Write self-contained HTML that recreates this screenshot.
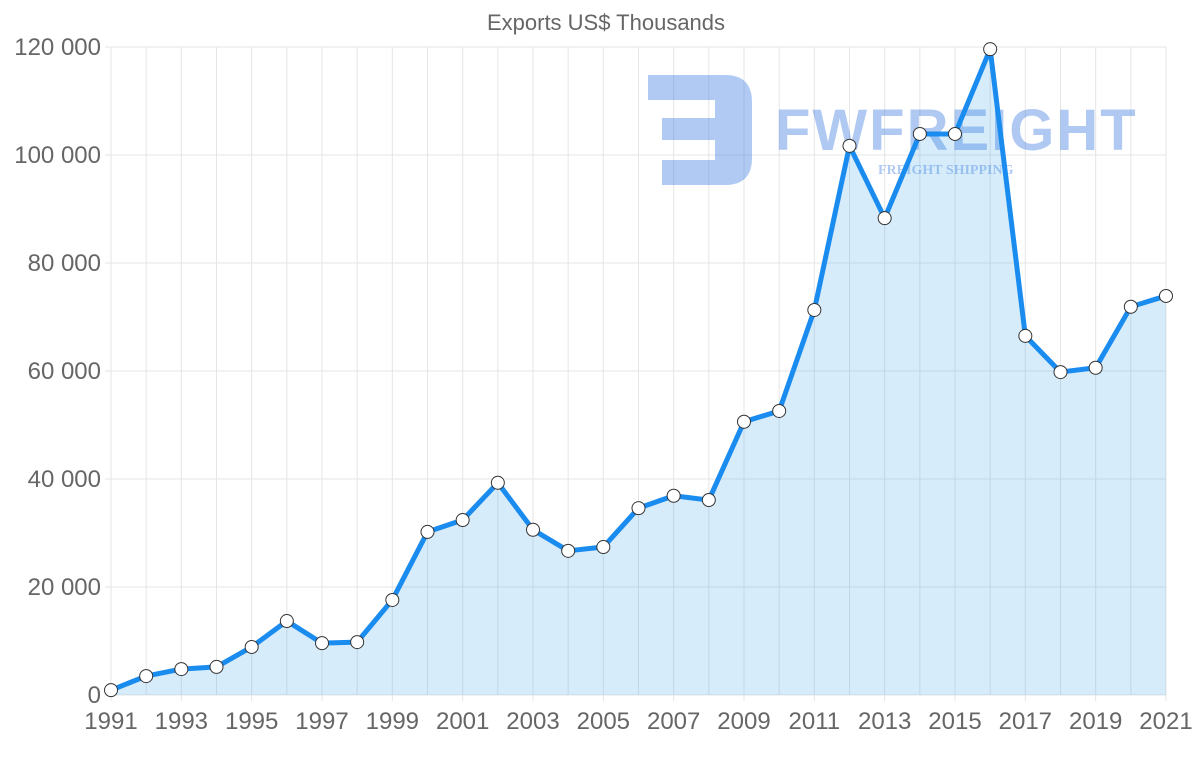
<!DOCTYPE html>
<html><head><meta charset="utf-8"><style>
html,body{margin:0;padding:0;background:#fff;}
svg{display:block;font-family:"Liberation Sans",sans-serif;}
</style></head><body>
<svg id="chart" width="1200" height="763" viewBox="0 0 1200 763">
<text x="606" y="30" text-anchor="middle" font-size="22" fill="#666">Exports US$ Thousands</text>
<g id="grid"></g>
<g id="wm" opacity="0.4">
<path d="M648 75 H725 Q752 75 752 102 V158 Q752 185 725 185 H662 V160 H715 V140 H662 V118 H715 V100 H648 Z" fill="#3b7be0"/>
<text x="775" y="150" font-size="58" font-weight="bold" fill="#3b7be0" letter-spacing="2">FWFREIGHT</text>
<text x="878" y="174" font-size="14" font-weight="bold" fill="#3b7be0" font-family="Liberation Serif,serif">FREIGHT SHIPPING</text>
</g>
<g id="plot"></g>
</svg>
<script>
const years=[1991,1992,1993,1994,1995,1996,1997,1998,1999,2000,2001,2002,2003,2004,2005,2006,2007,2008,2009,2010,2011,2012,2013,2014,2015,2016,2017,2018,2019,2020,2021];
const exportsValues=[900,3500,4800,5200,8900,13700,9600,9800,17600,30200,32400,39300,30600,26700,27400,34600,36900,36100,50600,52600,71300,101700,88300,103900,103900,119600,66500,59800,60600,71900,73900];
const yTicks=[0,20000,40000,60000,80000,100000,120000];
const yTickLabels=["0","20 000","40 000","60 000","80 000","100 000","120 000"];
const NS="http://www.w3.org/2000/svg";
const x0=111,x1=1166,yb=695,yt=47,yMax=120000;
const xs=i=>x0+(x1-x0)*i/(years.length-1);
const ys=v=>yb-(yb-yt)*v/yMax;
function mk(t,a,p){const e=document.createElementNS(NS,t);for(const k in a)e.setAttribute(k,a[k]);p.appendChild(e);return e;}
const grid=document.getElementById('grid'),plot=document.getElementById('plot');
years.forEach((y,i)=>{
 const l=mk('line',{x1:xs(i),x2:xs(i),y1:yt,y2:yb+(i%2==0?6:0),stroke:'#e5e5e5'},grid);
 
 
 if(i%2==0){const t=mk('text',{x:xs(i),y:729,'text-anchor':'middle','font-size':24,fill:'#666'},grid);t.textContent=y;
 
 }
});
yTicks.forEach((v,i)=>{
 const l=mk('line',{x1:x0-6,x2:x1,y1:ys(v),y2:ys(v),stroke:'#e5e5e5'},grid);
 
 
 const t=mk('text',{x:101,y:ys(v)+8,'text-anchor':'end','font-size':24,fill:'#666'},grid);t.textContent=yTickLabels[i];
 
 
});
let d='';exportsValues.forEach((v,i)=>{d+=(i?'L':'M')+xs(i)+' '+ys(v);});
const area=mk('path',{d:d+'L'+xs(years.length-1)+' '+yb+'L'+x0+' '+yb+'Z',fill:'rgba(54,162,235,0.2)'},plot);


const line=mk('path',{d:d,fill:'none',stroke:'#1a8cf0','stroke-width':5,'stroke-linejoin':'round'},plot);


exportsValues.forEach((v,i)=>{
 const c=mk('circle',{cx:xs(i),cy:ys(v),r:6.5,fill:'#fff',stroke:'#333','stroke-width':1},plot);
 
 
});
</script>
</body></html>
